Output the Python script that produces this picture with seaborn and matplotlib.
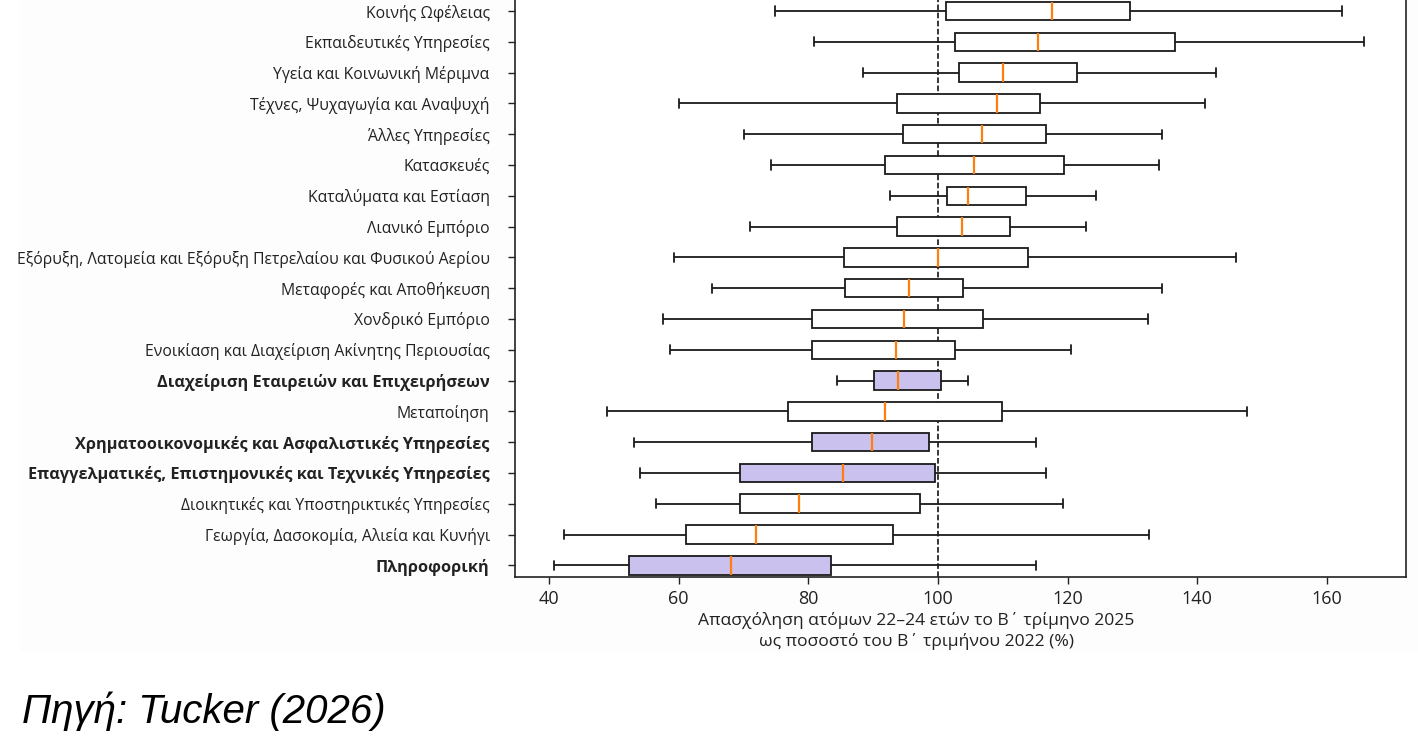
import numpy as np
import pandas as pd
import matplotlib
matplotlib.use('Agg')
import matplotlib.pyplot as plt
import seaborn as sns

# sectors, top to bottom
sectors = [
    'Κοινής Ωφέλειας',
    'Εκπαιδευτικές Υπηρεσίες',
    'Υγεία και Κοινωνική Μέριμνα',
    'Τέχνες, Ψυχαγωγία και Αναψυχή',
    'Άλλες Υπηρεσίες',
    'Κατασκευές',
    'Καταλύματα και Εστίαση',
    'Λιανικό Εμπόριο',
    'Εξόρυξη, Λατομεία και Εξόρυξη Πετρελαίου και Φυσικού Αερίου',
    'Μεταφορές και Αποθήκευση',
    'Χονδρικό Εμπόριο',
    'Ενοικίαση και Διαχείριση Ακίνητης Περιουσίας',
    'Διαχείριση Εταιρειών και Επιχειρήσεων',
    'Μεταποίηση',
    'Χρηματοοικονομικές και Ασφαλιστικές Υπηρεσίες',
    'Επαγγελματικές, Επιστημονικές και Τεχνικές Υπηρεσίες',
    'Διοικητικές και Υποστηρικτικές Υπηρεσίες',
    'Γεωργία, Δασοκομία, Αλιεία και Κυνήγι',
    'Πληροφορική',
]

# five-number summaries
mins = [74.8, 80.8, 88.5, 60.1, 70.0, 74.3, 92.6, 71.0, 59.2, 65.2,
        57.5, 58.7, 84.4, 48.9, 53.1, 54.1, 56.5, 42.3, 40.8]
q1s = [101.2, 102.6, 103.3, 93.7, 94.6, 91.8, 101.4, 93.7, 85.5, 85.6,
       80.6, 80.6, 90.1, 76.9, 80.6, 69.5, 69.5, 61.2, 52.3]
medians = [117.6, 115.4, 110.1, 109.1, 106.8, 105.6, 104.6, 103.7, 100.0, 95.6,
           94.7, 93.5, 93.9, 91.8, 89.8, 85.3, 78.5, 72.0, 68.0]
q3s = [129.7, 136.5, 121.4, 115.7, 116.7, 119.5, 113.6, 111.1, 113.9, 103.9,
       106.9, 102.7, 100.5, 109.9, 98.6, 99.6, 97.3, 93.1, 83.5]
maxs = [162.3, 165.7, 142.9, 141.2, 134.6, 134.1, 124.4, 122.8, 146.0, 134.5,
        132.4, 120.6, 104.7, 147.6, 115.2, 116.7, 119.3, 132.5, 115.1]

highlighted = [
    'Διαχείριση Εταιρειών και Επιχειρήσεων',
    'Χρηματοοικονομικές και Ασφαλιστικές Υπηρεσίες',
    'Επαγγελματικές, Επιστημονικές και Τεχνικές Υπηρεσίες',
    'Πληροφορική',
]

# long table: five points per sector give exactly those quartiles
rows = []
for i, s in enumerate(sectors):
    for v in (mins[i], q1s[i], medians[i], q3s[i], maxs[i]):
        rows.append({'sector': s, 'value': v})
df = pd.DataFrame(rows)

palette = {s: ('#c6b9f7' if s in highlighted else 'white') for s in sectors}

sns.set_style('white')
plt.rcParams['font.family'] = ['Open Sans', 'DejaVu Sans']

fig = plt.figure(figsize=(14.18, 7.45), dpi=100)
# faint background of the pasted chart image
fig.patches.append(plt.Rectangle((20 / 1418, 1 - 650 / 745), 1, 650 / 745,
                                 transform=fig.transFigure, color='#fdfdfd',
                                 zorder=-10))
ax = fig.add_axes([0.363, 0.2255, 0.6285, 0.7745])
ax.set_facecolor('white')

sns.boxplot(data=df, x='value', y='sector', hue='sector', order=sectors,
            hue_order=sectors, palette=palette, legend=False, orient='h',
            width=0.6, whis=(0, 100), linecolor='#1a1a1a', linewidth=1.3,
            medianprops=dict(color='#ff7f0e', linewidth=1.6), ax=ax)

ax.axvline(100, color='black', linestyle='--', linewidth=1.1, zorder=0.5)

ax.set_ylim(18.38, -0.36)
ax.set_xlim(34.7, 172.2)
ax.set_xticks([40, 60, 80, 100, 120, 140, 160])
ax.set_ylabel('')
ax.set_xlabel('Απασχόληση ατόμων 22–24 ετών το Β΄ τρίμηνο 2025\nως ποσοστό του Β΄ τριμήνου 2022 (%)',
              fontsize=12.6, color='#222222', linespacing=1.3)
ax.xaxis.set_label_coords(0.451, -0.061, transform=ax.transAxes)
ax.xaxis.label.set_va('top')

ax.tick_params(axis='x', labelsize=13, length=5, width=1, color='#222222',
               labelcolor='#222222', bottom=True, pad=4)
ax.tick_params(axis='y', labelsize=11.3, length=5, width=1, color='#222222',
               labelcolor='#222222', left=True, pad=13)
for lbl in ax.get_yticklabels():
    if lbl.get_text() in highlighted:
        lbl.set_fontweight('bold')
        lbl.set_fontsize(11.7)

for side in ('left', 'right', 'bottom'):
    ax.spines[side].set_color('#222222')
    ax.spines[side].set_linewidth(1.2)
ax.spines['top'].set_visible(False)

fig.text(22 / 1418, 1 - 711 / 745, 'Πηγή: Tucker (2026)', fontsize=29,
         style='italic', family=['Liberation Sans', 'DejaVu Sans'],
         ha='left', va='center', color='black')

fig.savefig('out.png', dpi=100)
